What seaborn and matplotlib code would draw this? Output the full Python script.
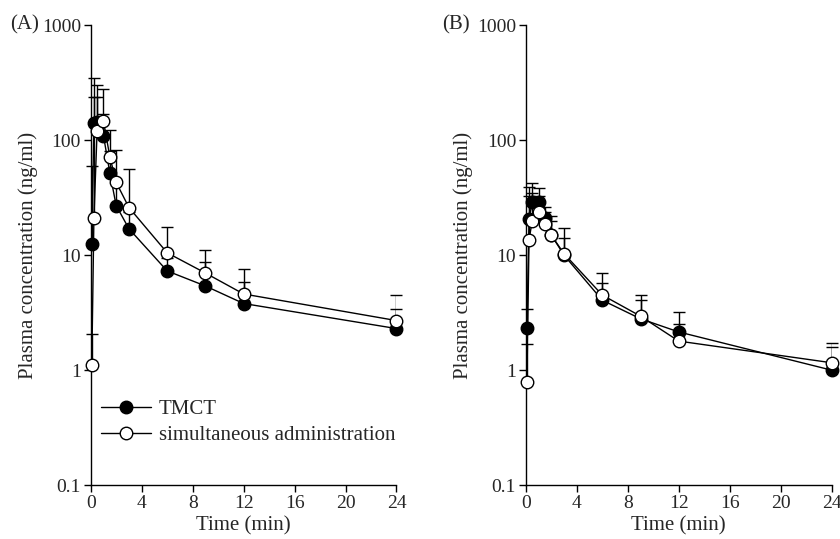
import numpy as np
import pandas as pd
import matplotlib
matplotlib.use("Agg")
import matplotlib.pyplot as plt
import seaborn as sns

# sampling times (same for both groups)
times = [0.083, 0.25, 0.5, 1, 1.5, 2, 3, 6, 9, 12, 24]

# panel A
a_tmct = [12.5, 140, 145, 110, 52, 27, 17, 7.3, 5.4, 3.8, 2.3]
a_tmct_up = [60, 350, 240, 170, 80, 45, 24, 9.5, 8.7, 5.9, 3.4]
a_sim = [1.1, 21, 120, 147, 72, 43, 26, 10.5, 7.0, 4.6, 2.7]
a_sim_up = [2.05, 238, 300, 280, 122, 82, 56, 17.6, 11, 7.6, 4.55]

# panel B
b_tmct = [2.33, 20.5, 29, 29, 20.9, 15, 10, 4.06, 2.8, 2.15, 1.0]
b_tmct_up = [3.4, 39, 42.6, 38.5, 26.3, 20, 14.1, 5.7, 4.1, 3.2, 1.6]
b_sim = [0.79, 13.5, 20, 23.8, 18.6, 14.9, 10.3, 4.5, 2.95, 1.79, 1.16]
b_sim_up = [1.68, 33, 35, 33, 24, 21.8, 17.3, 7.0, 4.55, 2.5, 1.73]

yticks = [0.1, 1, 10, 100, 1000]
ytick_labels = ["0.1", "1", "10", "100", "1000"]
xticks = [0, 4, 8, 12, 16, 20, 24]

sns.set_style("ticks")
plt.rcParams['font.family'] = ['Liberation Serif', 'DejaVu Serif']

fig = plt.figure(figsize=(8.4, 5.39), dpi=100)
ax_a = fig.add_axes([0.108, 0.100, 0.364, 0.853])
ax_b = fig.add_axes([0.626, 0.100, 0.364, 0.853])


def draw_panel(ax, tmct, tmct_up, sim, sim_up):
    for mean, up in [(tmct, tmct_up), (sim, sim_up)]:
        m = np.array(mean)
        u = np.array(up)
        ax.errorbar(times, m, yerr=[np.zeros_like(m), u - m], fmt='none',
                    ecolor='black', elinewidth=1, capsize=4.2, capthick=1, zorder=1)
    df = pd.DataFrame({'t': times * 2,
                       'c': list(tmct) + list(sim),
                       'g': ['TMCT'] * len(times) + ['simultaneous administration'] * len(times)})
    sns.lineplot(data=df[df.g == 'TMCT'], x='t', y='c', ax=ax, color='black',
                 lw=1, marker='o', markersize=9, markerfacecolor='black',
                 markeredgecolor='black', markeredgewidth=1, label='TMCT', zorder=3)
    sns.lineplot(data=df[df.g != 'TMCT'], x='t', y='c', ax=ax, color='black',
                 lw=1, marker='o', markersize=9, markerfacecolor='white',
                 markeredgecolor='black', markeredgewidth=1,
                 label='simultaneous administration', zorder=4)
    ax.set_yscale('log')
    ax.set_ylim(0.1, 1000)
    ax.set_xlim(0, 24)
    ax.set_yticks(yticks)
    ax.set_yticklabels(ytick_labels)
    ax.minorticks_off()
    ax.set_xticks(xticks)
    ax.tick_params(direction='out', length=5, width=1, labelsize=14, color='black', pad=2)
    for s in ['left', 'bottom']:
        ax.spines[s].set_linewidth(1)
        ax.spines[s].set_color('black')
    sns.despine(ax=ax)
    ax.set_xlabel('Time (min)', fontsize=15, labelpad=3)
    ax.set_ylabel('Plasma concentration (ng/ml)', fontsize=15, labelpad=3)
    for line in ax.lines:
        line.set_clip_on(False)


draw_panel(ax_a, a_tmct, a_tmct_up, a_sim, a_sim_up)
draw_panel(ax_b, b_tmct, b_tmct_up, b_sim, b_sim_up)

ax_a.legend(loc='lower left', bbox_to_anchor=(-0.015, 0.055), frameon=False,
            fontsize=15, handlelength=2.4, handletextpad=0.4, labelspacing=0.3,
            borderaxespad=0.3)
ax_b.get_legend().remove()

fig.text(10 / 840, 1 - 25 / 539, '(A)', fontsize=15, va='center', ha='left')
fig.text(442 / 840, 1 - 25 / 539, '(B)', fontsize=15, va='center', ha='left')

fig.savefig('out.png', dpi=100)
